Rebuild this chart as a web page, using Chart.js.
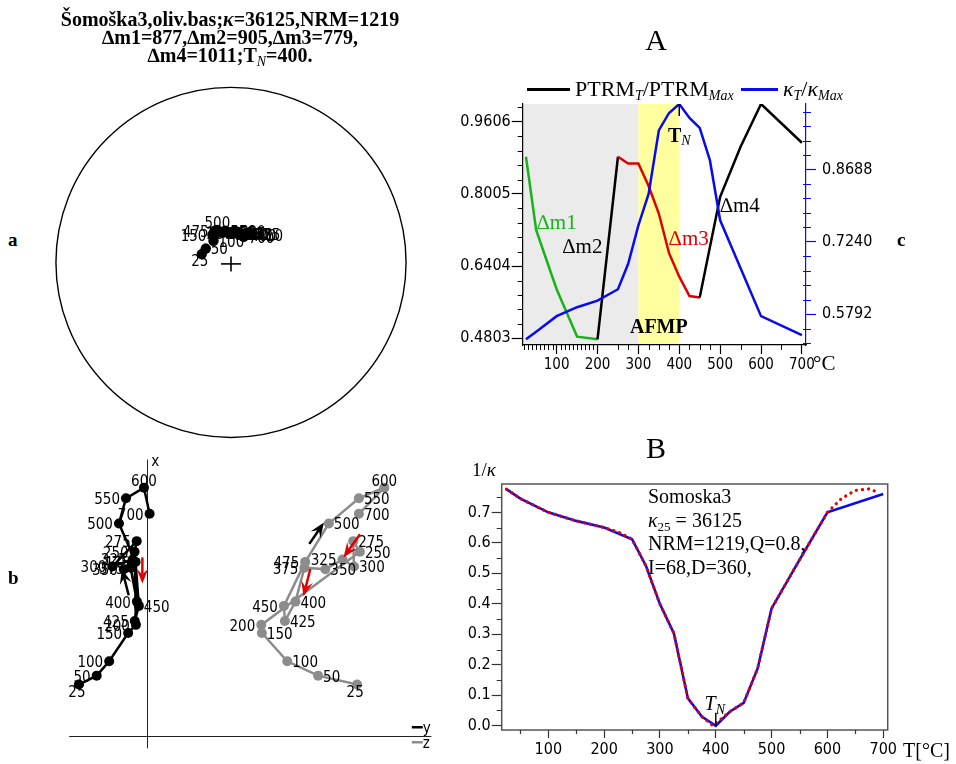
<!DOCTYPE html>
<html><head><meta charset="utf-8">
<script src="https://cdn.jsdelivr.net/npm/chart.js@4"></script>
<style>
html,body{margin:0;padding:0;background:#fff;}
#wrap{position:relative;width:956px;height:764px;overflow:hidden;background:#fff;}
canvas{position:absolute;}
.lab{position:absolute;font:bold 19px "Liberation Serif",serif;color:#000;}
</style></head><body>
<div id="wrap">
<canvas id="cS" width="380" height="455" style="left:41px;top:0px"></canvas>
<canvas id="cZ" width="420" height="324" style="left:30px;top:440px"></canvas>
<canvas id="cA" width="470" height="380" style="left:430px;top:0px"></canvas>
<canvas id="cB" width="496" height="344" style="left:460px;top:420px"></canvas>
<div class="lab" style="left:8px;top:229px">a</div>
<div class="lab" style="left:8px;top:567px">b</div>
<div class="lab" style="left:897px;top:229px">c</div>
</div>
<script>
// ---------------- DATA ----------------
const temps = [25,50,100,150,200,250,275,300,325,350,375,400,425,450,475,500,550,600,700];
const ptrmRatio  = [0.883,0.720,0.589,0.484,0.478,0.883,0.868,0.868,0.818,0.757,0.669,0.617,0.574,0.571,0.683,0.794,0.905,1.000,0.914];
const kappaRatio = [0.529,0.544,0.575,0.593,0.606,0.629,0.680,0.757,0.820,0.947,0.982,1.000,0.972,0.952,0.887,0.767,0.671,0.575,0.537];
const deltaBounds = [200,250,450];
const deltaM = [877,905,779,1011];
const leftTicksA  = [0.4803,0.6404,0.8005,0.9606];
const rightTicksA = [0.5792,0.7240,0.8688];
const xTicksA = [100,200,300,400,500,600,700];
const afmpRange = [300,400];
const tN = 400;

const invKappa    = [0.776,0.745,0.700,0.672,0.650,0.612,0.524,0.399,0.303,0.090,0.030,0.000,0.046,0.075,0.188,0.385,0.544,0.700,0.760];
const tempsFit    = [25,50,100,150,200,225,250,275,300,325,350,375,395,425,450,475,500,550,600,625,650,675,690];
const invKappaFit = [0.776,0.745,0.700,0.672,0.650,0.636,0.612,0.524,0.399,0.303,0.090,0.030,0.000,0.046,0.075,0.188,0.385,0.544,0.700,0.745,0.772,0.777,0.766];
const xTicksB = [100,200,300,400,500,600,700];
const yTicksB = [0,0.1,0.2,0.3,0.4,0.5,0.6,0.7];

// Zijderveld components (arbitrary units)
const zNorth = [264,310,384,530,572,949,1004,873,909,859,867,692,592,670,897,1095,1225,1280,1145];
const zEast  = [-350,-259,-195,-98,-58,-65,-54,-179,-75,-120,-85,-53,-64,-43,-60,-145,-109,-17,12];
const zDown  = [1075,875,717,587,584,1089,1055,1059,1000,912,805,759,705,700,809,930,1084,1214,1084];
const zEastPos = ['b','l','l','l','l','l','l','l','l','l','l','l','l','r','l','l','l','t','l'];
const zDownPos = ['b','r','r','r','l','r','r','r','l','r','l','r','r','l','l','r','r','t','r'];
const zArrows = [
  {from:[-95,725], to:[-130,860], color:'#000'},
  {from:[-25,920], to:[-25,785], color:'#e00000'},
  {from:[830,990], to:[905,1100], color:'#000'},
  {from:[1090,1040], to:[1005,920], color:'#e00000'},
  {from:[835,860], to:[800,720], color:'#e00000'}
];

// stereonet (unit circle projection)
const stereoX = [-0.167,-0.144,-0.100,-0.106,-0.089,-0.050,-0.028,-0.006,0.017,0.039,0.061,0.083,0.106,0.122,-0.094,-0.078,-0.033,0.022,0.072];
const stereoY = [0.047,0.078,0.122,0.156,0.161,0.167,0.172,0.161,0.167,0.161,0.161,0.156,0.161,0.156,0.178,0.183,0.178,0.178,0.144];
const stereoPos = ['b','r','r','l','c','r','r','r','r','r','r','r','r','r','l','t','r','r','r'];

// ---------------- STYLE ----------------
const SERIF = '"Liberation Serif","Times New Roman",serif';
const SANS = '"DejaVu Sans Condensed","DejaVu Sans",sans-serif';
const BLUE = '#0a0aee', RED = '#e00000', GREEN = '#17b317', GREY = '#8c8c8c';
const fnt = (st, sz, fam) => `${st} ${sz}px ${fam}`;

function rich(ctx, x, y, segs, align, color){
  ctx.save(); ctx.textBaseline = 'alphabetic'; ctx.textAlign = 'left';
  let w = 0; for (const s of segs){ ctx.font = s.f; w += ctx.measureText(s.t).width; }
  let cx = align === 'center' ? x - w/2 : align === 'right' ? x - w : x;
  for (const s of segs){ ctx.font = s.f; ctx.fillStyle = s.c || color || '#000'; ctx.fillText(s.t, cx, y + (s.dy||0)); cx += ctx.measureText(s.t).width; }
  ctx.restore();
}
function hLine(ctx,x0,x1,y,c,w){ctx.save();ctx.strokeStyle=c;ctx.lineWidth=w;ctx.beginPath();ctx.moveTo(x0,y);ctx.lineTo(x1,y);ctx.stroke();ctx.restore();}
function vLine(ctx,x,y0,y1,c,w){ctx.save();ctx.strokeStyle=c;ctx.lineWidth=w;ctx.beginPath();ctx.moveTo(x,y0);ctx.lineTo(x,y1);ctx.stroke();ctx.restore();}
function pointLabel(ctx, text, px, py, pos, size){
  ctx.save(); ctx.font = fnt('', size, SANS); ctx.fillStyle = '#000';
  if (pos === 'l'){ ctx.textAlign='right'; ctx.textBaseline='middle'; ctx.fillText(text, px-6, py+2); }
  else if (pos === 'r'){ ctx.textAlign='left'; ctx.textBaseline='middle'; ctx.fillText(text, px+5, py+2); }
  else if (pos === 't'){ ctx.textAlign='center'; ctx.textBaseline='alphabetic'; ctx.fillText(text, px, py-2); }
  else if (pos === 'b'){ ctx.textAlign='center'; ctx.textBaseline='top'; ctx.fillText(text, px-2, py+1); }
  else { ctx.textAlign='center'; ctx.textBaseline='middle'; ctx.fillText(text, px+4, py+1); }
  ctx.restore();
}
function arrow(ctx, x0,y0,x1,y1,color){
  const a = Math.atan2(y1-y0, x1-x0), L = 15, W = 6, c = Math.cos(a), s = Math.sin(a);
  ctx.save(); ctx.strokeStyle=color; ctx.fillStyle=color; ctx.lineWidth=2.5;
  ctx.beginPath(); ctx.moveTo(x0,y0); ctx.lineTo(x1-L*0.6*c, y1-L*0.6*s); ctx.stroke();
  ctx.beginPath(); ctx.moveTo(x1,y1);
  ctx.lineTo(x1-L*c+W*s, y1-L*s-W*c);
  ctx.lineTo(x1-L*0.6*c, y1-L*0.6*s);
  ctx.lineTo(x1-L*c-W*s, y1-L*s+W*c);
  ctx.closePath(); ctx.fill(); ctx.restore();
}
const common = {responsive:false, animation:false, events:[], plugins:{legend:{display:false}, tooltip:{enabled:false}}};

// ---------------- PANEL a: stereonet ----------------
new Chart(document.getElementById('cS'), {
  type:'scatter',
  data:{datasets:[{data: stereoX.map((x,i)=>({x, y:stereoY[i]})), pointRadius:5.2, pointBackgroundColor:'#000', pointBorderWidth:0, showLine:false}]},
  options:{...common, layout:{padding:{top:75,left:0,right:0,bottom:0}},
    scales:{x:{type:'linear',display:false,min:-1.0556,max:1.0556}, y:{type:'linear',display:false,min:-1.0556,max:1.0556}}},
  plugins:[{id:'stereo',
    beforeDatasetsDraw(ch){
      const {ctx, scales:{x,y}} = ch;
      const cx = x.getPixelForValue(0), cy = y.getPixelForValue(0), r = x.getPixelForValue(1)-cx;
      ctx.save(); ctx.strokeStyle='#000'; ctx.lineWidth=1.4; ctx.beginPath(); ctx.arc(cx,cy,r,0,Math.PI*2); ctx.stroke(); ctx.restore();
      hLine(ctx,cx-10,cx+10,cy+1.5,'#000',1.6); vLine(ctx,cx,cy-6,cy+9,'#000',1.6);
    },
    afterDatasetsDraw(ch){
      const {ctx} = ch; const meta = ch.getDatasetMeta(0);
      meta.data.forEach((p,i)=>pointLabel(ctx, String(temps[i]), p.x, p.y, stereoPos[i], 15));
    },
    afterDraw(ch){
      const ctx = ch.ctx, B = fnt('bold',20,SERIF), BI = fnt('italic bold',20,SERIF), NI = fnt('italic',14,SERIF);
      rich(ctx,189,26,[{t:'Šomoška3,oliv.bas;',f:B},{t:'κ',f:BI},{t:'=36125,NRM=1219',f:B}],'center');
      rich(ctx,189,44,[{t:`∆m1=${deltaM[0]},∆m2=${deltaM[1]},∆m3=${deltaM[2]},`,f:B}],'center');
      rich(ctx,189,62,[{t:`∆m4=${deltaM[3]};T`,f:B},{t:'N',f:NI,dy:4},{t:`=${tN}.`,f:B}],'center');
    }
  }]
});

// ---------------- PANEL b: Zijderveld ----------------
new Chart(document.getElementById('cZ'), {
  type:'scatter',
  data:{datasets:[
    {data: zEast.map((e,i)=>({x:e, y:zNorth[i]})), showLine:true, borderColor:'#000', borderWidth:2.5, pointRadius:5, pointBackgroundColor:'#000', pointBorderWidth:0},
    {data: zDown.map((d,i)=>({x:d, y:zNorth[i]})), showLine:true, borderColor:GREY, borderWidth:2.5, pointRadius:5, pointBackgroundColor:GREY, pointBorderWidth:0}
  ]},
  options:{...common, layout:{padding:0},
    scales:{x:{type:'linear',display:false,min:-575,max:1525}, y:{type:'linear',display:false,min:-120,max:1500}}},
  plugins:[{id:'zij',
    beforeDatasetsDraw(ch){
      const {ctx, scales:{x,y}} = ch;
      const x0 = x.getPixelForValue(0), y0 = y.getPixelForValue(0);
      vLine(ctx, Math.round(x0)+0.5, y.getPixelForValue(1425), y.getPixelForValue(-65), '#222', 1);
      hLine(ctx, x.getPixelForValue(-400), x.getPixelForValue(1455), Math.round(y0)+0.5, '#222', 1);
      ctx.save(); ctx.font = fnt('',15,SANS); ctx.fillStyle='#000'; ctx.fillText('x', x0+4, y.getPixelForValue(1390)); ctx.restore();
      // legend
      const lx = x.getPixelForValue(1355);
      hLine(ctx, lx, lx+11, y0-8.5, '#000', 2.5);
      hLine(ctx, lx, lx+11, y0+6.5, GREY, 2.5);
      ctx.save(); ctx.font = fnt('',15,SANS); ctx.fillStyle='#000';
      ctx.fillText('y', lx+11, y0-3); ctx.fillText('z', lx+11, y0+12); ctx.restore();
    },
    afterDatasetsDraw(ch){
      const {ctx, scales:{x,y}} = ch;
      ch.getDatasetMeta(0).data.forEach((p,i)=>pointLabel(ctx, String(temps[i]), p.x, p.y, zEastPos[i], 15));
      ch.getDatasetMeta(1).data.forEach((p,i)=>pointLabel(ctx, String(temps[i]), p.x, p.y, zDownPos[i], 15));
      for (const a of zArrows) arrow(ctx, x.getPixelForValue(a.from[0]), y.getPixelForValue(a.from[1]), x.getPixelForValue(a.to[0]), y.getPixelForValue(a.to[1]), a.color);
    }
  }]
});

// ---------------- PANEL A ----------------
function segColor(c){
  const t = temps[c.p0DataIndex];
  return t < deltaBounds[0] ? GREEN : t < deltaBounds[1] ? '#000' : t < deltaBounds[2] ? RED : '#000';
}
const leftMinorA = [], rightMinorA = [], xMinorA = [];
for (let k=0;k<=16;k++){ if (k%5) leftMinorA.push(0.4803 + k*0.03202); }
for (let k=-2;k<=14;k++){ if (k%5) rightMinorA.push(0.5792 + k*0.02896); }
for (let t=20;t<=200;t+=10){ if (t%100) xMinorA.push(t); }
[250,275,325,350,375,425,450,475,550,650].forEach(t=>xMinorA.push(t));

new Chart(document.getElementById('cA'), {
  type:'line',
  data:{datasets:[
    {label:'κT/κMax', data: temps.map((t,i)=>({x:t,y:kappaRatio[i]})), yAxisID:'yR', borderColor:BLUE, borderWidth:2.5, pointRadius:0, tension:0},
    {label:'PTRMT/PTRMMax', data: temps.map((t,i)=>({x:t,y:ptrmRatio[i]})), yAxisID:'yL', borderColor:'#000', borderWidth:2.5, pointRadius:0, tension:0, segment:{borderColor:segColor}}
  ]},
  options:{...common, layout:{padding:{top:104,left:0,right:0,bottom:0}},
    scales:{
      x:{type:'linear', min:17, max:710, afterBuildTicks:s=>{s.ticks = xTicksA.map(v=>({value:v}));}, afterFit:s=>{s.height=35;},
         grid:{drawOnChartArea:false, tickLength:9, tickColor:'#000', tickWidth:1.2}, border:{color:'#000',width:1.2},
         ticks:{font:{family:SANS,size:15}, color:'#000', padding:2, maxRotation:0, autoSkip:false, callback:v=>String(v)}},
      yL:{type:'linear', position:'left', min:0.4654, max:1.0, afterBuildTicks:s=>{s.ticks = leftTicksA.map(v=>({value:v}));}, afterFit:s=>{s.width=92.7;},
         grid:{drawOnChartArea:false, tickLength:11, tickColor:'#000', tickWidth:1.2}, border:{color:'#000',width:1.2},
         ticks:{font:{family:SANS,size:16}, color:'#000', padding:1, callback:v=>v.toFixed(4)}},
      yR:{type:'linear', position:'right', min:0.5173, max:1.0, afterBuildTicks:s=>{s.ticks = rightTicksA.map(v=>({value:v}));}, afterFit:s=>{s.width=94;},
         grid:{drawOnChartArea:false, tickLength:10, tickColor:BLUE, tickWidth:1.2}, border:{color:BLUE,width:1.2},
         ticks:{font:{family:SANS,size:16}, color:'#000', padding:6, callback:v=>v.toFixed(4)}}
    }},
  plugins:[{id:'panelA',
    beforeDraw(ch){
      const {ctx, chartArea:ca, scales:{x}} = ch;
      const xa = x.getPixelForValue(afmpRange[0]), xb = x.getPixelForValue(afmpRange[1]);
      ctx.save(); ctx.fillStyle='#ebebeb'; ctx.fillRect(ca.left, ca.top, xa-ca.left, ca.bottom-ca.top);
      ctx.fillStyle='#ffffa0'; ctx.fillRect(xa, ca.top, xb-xa, ca.bottom-ca.top); ctx.restore();
    },
    afterDraw(ch){
      const {ctx, chartArea:ca, scales:{x,yL,yR}} = ch;
      ctx.save(); ctx.lineWidth=1;
      ctx.strokeStyle='#000'; ctx.beginPath();
      for (const v of xMinorA){ const p=Math.round(x.getPixelForValue(v))+0.5; ctx.moveTo(p,ca.bottom); ctx.lineTo(p,ca.bottom+5); }
      for (const v of leftMinorA){ const p=Math.round(yL.getPixelForValue(v))+0.5; ctx.moveTo(ca.left,p); ctx.lineTo(ca.left-5,p); }
      ctx.stroke();
      ctx.strokeStyle=BLUE; ctx.beginPath();
      for (const v of rightMinorA){ const p=Math.round(yR.getPixelForValue(v))+0.5; ctx.moveTo(ca.right-3,p); ctx.lineTo(ca.right+5,p); }
      ctx.stroke(); ctx.restore();
      // T_N marker
      const xn = x.getPixelForValue(tN);
      vLine(ctx, xn, ca.top, ca.top+12, '#000', 1.5);
      const S = fnt('',22,SERIF), SB = fnt('bold',20,SERIF), I = fnt('italic',22,SERIF), IS = fnt('italic',14,SERIF);
      rich(ctx, xn, ca.top+38, [{t:'T',f:SB},{t:'N',f:fnt('italic',14,SERIF),dy:3}], 'center');
      rich(ctx, x.getPixelForValue((afmpRange[0]+afmpRange[1])/2), ca.bottom-12, [{t:'AFMP',f:SB}], 'center');
      // delta labels
      const dl = [{t:'∆m1',x:52,y:0.723,c:GREEN},{t:'∆m2',x:115,y:0.669,c:'#000'},{t:'∆m3',x:375,y:0.687,c:RED},{t:'∆m4',x:500,y:0.760,c:'#000'}];
      for (const d of dl) rich(ctx, x.getPixelForValue(d.x), yL.getPixelForValue(d.y), [{t:d.t,f:fnt('',21,SERIF),c:d.c}], 'left');
      // unit
      rich(ctx, ca.right+7, ca.bottom+25, [{t:'°C',f:fnt('',21,SERIF)}], 'left');
      // title
      rich(ctx, 226, 50, [{t:'A',f:fnt('',30,SERIF)}], 'center');
      // legend
      hLine(ctx, 97, 140, 89.5, '#000', 3);
      rich(ctx, 145, 96, [{t:'PTRM',f:S},{t:'T',f:IS,dy:4},{t:'/PTRM',f:S},{t:'Max',f:IS,dy:4}], 'left');
      hLine(ctx, 311, 348, 89.5, BLUE, 3);
      rich(ctx, 353, 96, [{t:'κ',f:I},{t:'T',f:IS,dy:4},{t:'/',f:S},{t:'κ',f:I},{t:'Max',f:IS,dy:4}], 'left');
    }
  }]
});

// ---------------- PANEL B ----------------
const xMinorB = [50,150,250,350,450,550,650];
const yMinorB = [0.05,0.15,0.25,0.35,0.45,0.55,0.65,0.75];
new Chart(document.getElementById('cB'), {
  type:'line',
  data:{datasets:[
    {label:'fit', data: tempsFit.map((t,i)=>({x:t,y:invKappaFit[i]})), borderColor:RED, borderWidth:3.2, borderDash:[0.1,6], borderCapStyle:'round', pointRadius:0, tension:0},
    {label:'1/k', data: temps.map((t,i)=>({x:t,y:invKappa[i]})), borderColor:BLUE, borderWidth:2.6, pointRadius:0, tension:0}
  ]},
  options:{...common, layout:{padding:{top:64,left:0,right:68.3,bottom:0}},
    scales:{
      x:{type:'linear', min:16.5, max:708, afterBuildTicks:s=>{s.ticks = xTicksB.map(v=>({value:v}));}, afterFit:s=>{s.height=34;},
         grid:{drawOnChartArea:false, tickLength:8, tickColor:'#333', tickWidth:1.2}, border:{display:false},
         ticks:{font:{family:SANS,size:16}, color:'#000', padding:2, maxRotation:0, autoSkip:false, callback:v=>String(v)}},
      y:{type:'linear', min:-0.014, max:0.793, afterBuildTicks:s=>{s.ticks = yTicksB.map(v=>({value:v}));}, afterFit:s=>{s.width=41.7;},
         grid:{drawOnChartArea:false, tickLength:10, tickColor:'#333', tickWidth:1.2}, border:{display:false},
         ticks:{font:{family:SANS,size:16}, color:'#000', padding:1, callback:v=>v.toFixed(1)}}
    }},
  plugins:[{id:'panelB',
    beforeDatasetsDraw(ch){
      const {ctx, chartArea:ca, scales:{x,y}} = ch;
      ctx.save(); ctx.strokeStyle='#555'; ctx.lineWidth=1.5; ctx.strokeRect(ca.left, ca.top, ca.right-ca.left, ca.bottom-ca.top);
      ctx.strokeStyle='#333'; ctx.lineWidth=1.2; ctx.beginPath();
      for (const v of xMinorB){ const p=Math.round(x.getPixelForValue(v))+0.5; ctx.moveTo(p,ca.bottom); ctx.lineTo(p,ca.bottom+4); }
      for (const v of yMinorB){ const p=Math.round(y.getPixelForValue(v))+0.5; ctx.moveTo(ca.left,p); ctx.lineTo(ca.left-5,p); }
      ctx.stroke(); ctx.restore();
    },
    afterDraw(ch){
      const {ctx, chartArea:ca, scales:{x,y}} = ch;
      const S = fnt('',20,SERIF), I = fnt('italic',20,SERIF);
      const xn = x.getPixelForValue(tN), y0 = y.getPixelForValue(0);
      vLine(ctx, xn, y0-13, y0, '#000', 1.4);
      rich(ctx, xn-1, y0-16, [{t:'T',f:I},{t:'N',f:fnt('italic',14,SERIF),dy:4}], 'center');
      const tx = 188;
      rich(ctx, tx, 83, [{t:'Somoska3',f:S}], 'left');
      rich(ctx, tx, 106.5, [{t:'κ',f:I},{t:'25',f:fnt('',13,SERIF),dy:4},{t:' = 36125',f:S}], 'left');
      rich(ctx, tx, 130, [{t:'NRM=1219,Q=0.8,',f:S}], 'left');
      rich(ctx, tx, 153.5, [{t:'I=68,D=360,',f:S}], 'left');
      rich(ctx, 12, 56, [{t:'1/',f:fnt('',19,SERIF)},{t:'κ',f:fnt('italic',19,SERIF)}], 'left');
      rich(ctx, 443, 337, [{t:'T[°C]',f:S}], 'left');
      rich(ctx, 196, 38, [{t:'B',f:fnt('',30,SERIF)}], 'center');
    }
  }]
});
</script>
</body></html>
